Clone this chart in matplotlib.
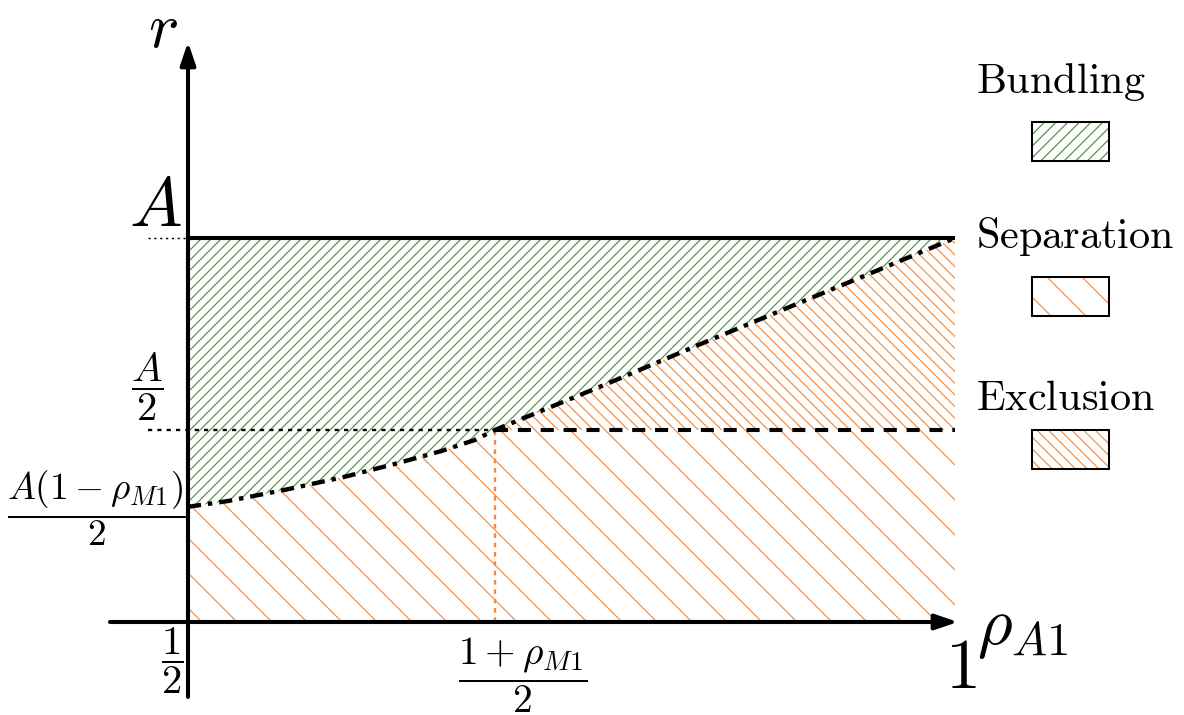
import numpy as np
import matplotlib
matplotlib.use('Agg')
import matplotlib.pyplot as plt
from matplotlib.patches import Rectangle

plt.rcParams['mathtext.fontset'] = 'cm'
plt.rcParams['hatch.linewidth'] = 0.4

# parametres du schema
A = 1.0
rho_M1 = 0.4
r_low = A * (1 - rho_M1) / 2      # point de depart de la frontiere
x_kink = (1 + rho_M1) / 2         # ou la frontiere croise A/2

# frontiere bundling / autres
x_bound = [0.5, 0.526, 0.563, 0.602, 0.637, 0.665, 0.687, 0.7, 0.77, 0.836, 0.931, 1.0]
r_bound = [0.3, 0.315, 0.344, 0.378, 0.414, 0.445, 0.474, 0.5, 0.615, 0.727, 0.885, 1.0]

regions = ['Bundling', 'Separation', 'Exclusion']
green = '#4b8f3e'
orange = '#f7883a'
region_colors = [green, orange, orange]
region_hatch = ['/' * 7, '\\' * 2, '\\' * 6]
legend_hatch = ['/' * 6, '\\' * 2, '\\' * 6]

DPI = 210
W, H = 1184, 715
fig = plt.figure(figsize=(W / DPI, H / DPI), dpi=DPI)
ax = fig.add_axes([0, 0, 1, 1])
# 188 px -> rho=0.5, 955 px -> rho=1 ; 622 px -> r=0, 238 px -> r=A
sx, sy = 767 / 0.5, 384 / A
ax.set_xlim(0.5 - 188 / sx, 0.5 + (W - 188) / sx)
ax.set_ylim((622 - H) / sy, 622 / sy)
ax.axis('off')


def fx(px):
    return px / W


def fy(py):
    return 1 - py / H


xb = np.array(x_bound)
rb = np.array(r_bound)

# zones hachurees
ax.fill_between(xb, rb, A, facecolor='none', edgecolor=region_colors[0],
                hatch=region_hatch[0], linewidth=0)
ax.fill_between(xb, 0, np.minimum(rb, A / 2), facecolor='none', edgecolor=region_colors[1],
                hatch=region_hatch[1], linewidth=0)
ax.fill_between(xb, A / 2, np.maximum(rb, A / 2), facecolor='none', edgecolor=region_colors[2],
                hatch=region_hatch[2], linewidth=0)

# lignes
x_left = 0.5 - 40 / sx
ax.plot([0.5, 1], [A, A], color='k', lw=1.4, solid_capstyle='butt')
ax.plot([x_left, 0.5], [A, A], color='k', lw=0.5, dashes=(1.5, 2.5))
ax.plot([x_left, x_kink], [A / 2, A / 2], color='k', lw=0.8, dashes=(1.8, 2.2))
ax.plot([x_kink, 1], [A / 2, A / 2], color='k', lw=1.4, dashes=(3.2, 2.4))
ax.plot([x_kink, x_kink], [0, A / 2], color=orange, lw=0.8, dashes=(2, 2))
ax.plot(xb, rb, color='k', lw=1.5, dashes=(3, 1.6, 1, 1.6))

# axes avec fleches
arrow = dict(arrowstyle='-|>,head_length=0.65,head_width=0.22', lw=1.4, color='k',
             shrinkA=0, shrinkB=0)
ax.annotate('', xy=(0.5, 580 / sy), xytext=(0.5, (622 - 697) / sy), arrowprops=arrow)
ax.annotate('', xy=(0.5 + 770 / sx, 0), xytext=(0.5 - 78 / sx, 0), arrowprops=arrow)

# textes
ax.text(fx(163), fy(29), r'$r$', fontsize=22, ha='center', va='center', transform=ax.transAxes)
ax.text(fx(155), fy(207), r'$A$', fontsize=24, ha='center', va='center', transform=ax.transAxes)
ax.text(fx(147), fy(387), r'$\dfrac{A}{2}$', fontsize=14, ha='center', va='center',
        transform=ax.transAxes)
ax.text(fx(97), fy(508), r'$\dfrac{A(1-\rho_{M1})}{2}$', fontsize=12.8, ha='center',
        va='center', transform=ax.transAxes)
ax.text(fx(172), fy(661), r'$\dfrac{1}{2}$', fontsize=14, ha='center', va='center',
        transform=ax.transAxes)
ax.text(fx(523), fy(675), r'$\dfrac{1+\rho_{M1}}{2}$', fontsize=13.5, ha='center', va='center',
        transform=ax.transAxes)
ax.text(fx(961), fy(668), r'$1$', fontsize=24, ha='center', va='center', transform=ax.transAxes)
ax.text(fx(1023), fy(628), r'$\rho_{A1}$', fontsize=23, ha='center', va='center',
        transform=ax.transAxes)

# legende
label_y = [82, 237, 398]
box_y = [122, 277, 430]
for name, col, hat, ly, by in zip(regions, region_colors, legend_hatch, label_y, box_y):
    ax.text(fx(976), fy(ly), r'$\mathrm{' + name + '}$', fontsize=14.5, ha='left', va='center',
            transform=ax.transAxes)
    rect = (fx(1032), fy(by + 39)), 77 / W, 39 / H
    ax.add_patch(Rectangle(*rect, transform=ax.transAxes, facecolor='none', edgecolor=col,
                           hatch=hat, linewidth=0))
    ax.add_patch(Rectangle(*rect, transform=ax.transAxes, facecolor='none', edgecolor='k',
                           linewidth=0.7))

fig.savefig('out.png', dpi=DPI)
